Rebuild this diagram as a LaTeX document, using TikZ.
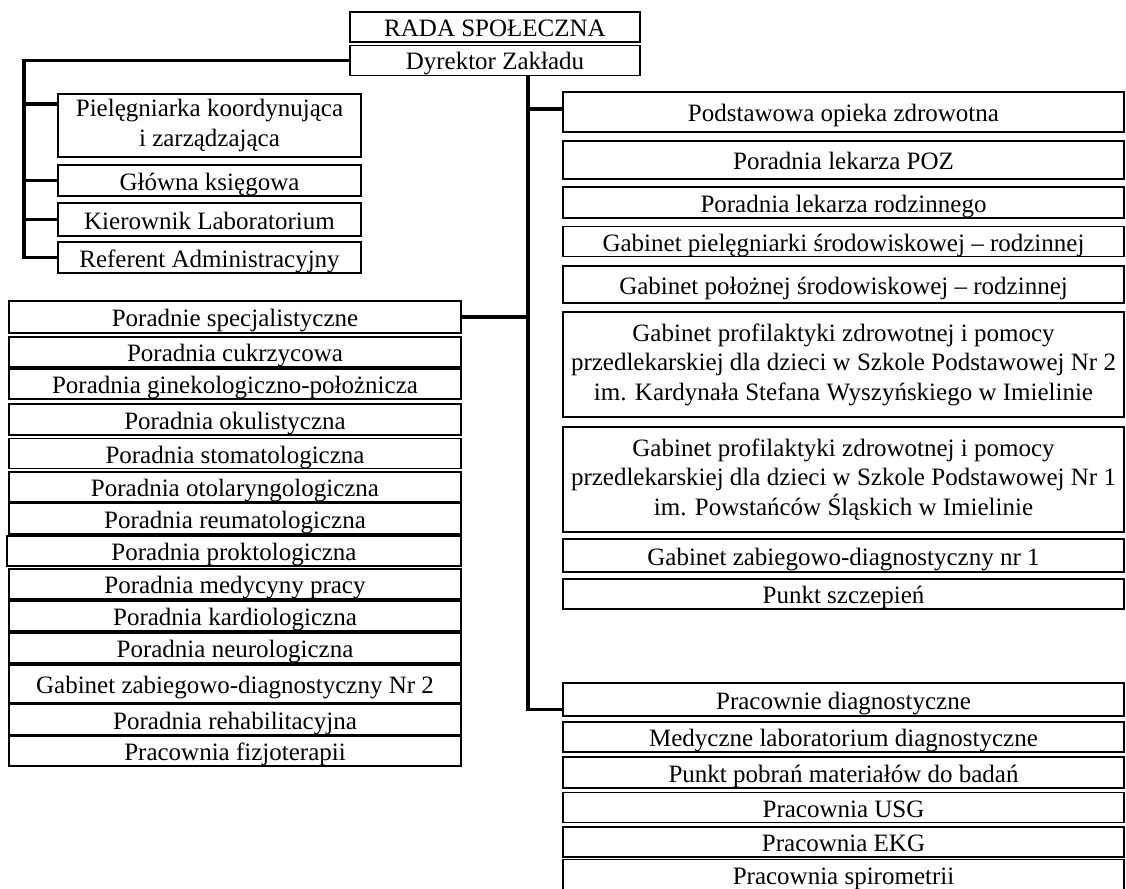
\documentclass[tikz,border=0pt]{standalone}
\usepackage{fontspec}
\setmainfont{Liberation Serif}
\newcommand\orgbox[6]{%
  \pgfmathsetmacro\obcx{(#2+#4)/2}\pgfmathsetmacro\obcy{(#3+#5)/2}%
  \pgfmathsetmacro\obw{#4-#2}\pgfmathsetmacro\obh{#5-#3}%
  \node[box, minimum width=\obw pt, minimum height=\obh pt] (#1) at (\obcx,\obcy) {#6};}
\newcommand\orgmbox[6]{%
  \pgfmathsetmacro\obcx{(#2+#4)/2}\pgfmathsetmacro\obcy{(#3+#5)/2}%
  \pgfmathsetmacro\obw{#4-#2}\pgfmathsetmacro\obh{#5-#3}%
  \node[mbox, minimum width=\obw pt, minimum height=\obh pt] (#1) at (\obcx,\obcy) {#6};}
\begin{document}
\begin{tikzpicture}[x=1pt,y=-1pt,
  box/.style={draw=black, line width=1.6pt, inner sep=0pt, fill=white,
    font=\fontsize{25}{30}\selectfont, text height=24.5pt, text depth=5.5pt},
  mbox/.style={draw=black, line width=1.6pt, inner sep=0pt, fill=white,
    font=\fontsize{25}{29.5}\selectfont, align=center},
  conn/.style={draw=black, line width=3.8pt}]
\useasboundingbox (0,0) rectangle (1126,888);
\fill[white] (0,0) rectangle (1126,888);
% top
\orgbox{rada}{350}{12}{640}{42}{RADA SPOŁECZNA}
\orgbox{dyr}{350}{47}{640}{74}{Dyrektor Zakładu}
% left top
\orgmbox{piel}{58}{94}{361}{157}{Pielęgniarka koordynująca\\i zarządzająca}
\orgbox{glow}{58}{165}{361}{196}{Główna księgowa}
\orgbox{kier}{58}{203}{361}{236}{Kierownik Laboratorium}
\orgbox{ref}{58}{242}{361}{273}{Referent Administracyjny}
% left column
\orgbox{spec}{9}{301}{461}{333}{Poradnie specjalistyczne}
\orgbox{cukr}{9}{337}{461}{367}{Poradnia cukrzycowa}
\orgbox{gin}{9}{369}{461}{399}{Poradnia ginekologiczno-położnicza}
\orgbox{oku}{9}{404}{461}{435}{Poradnia okulistyczna}
\orgbox{stom}{9}{439}{461}{468}{Poradnia stomatologiczna}
\orgbox{oto}{9}{472}{461}{502}{Poradnia otolaryngologiczna}
\orgbox{reum}{9}{503}{461}{534}{Poradnia reumatologiczna}
\orgbox{prok}{7}{536}{461}{566}{Poradnia proktologiczna}
\orgbox{med}{9}{569}{461}{599}{Poradnia medycyny pracy}
\orgbox{kard}{9}{601}{461}{631}{Poradnia kardiologiczna}
\orgbox{neur}{9}{633}{461}{663}{Poradnia neurologiczna}
\orgbox{gab2}{9}{665}{461}{703}{Gabinet zabiegowo-diagnostyczny Nr 2}
\orgbox{rehab}{9}{704}{461}{735}{Poradnia rehabilitacyjna}
\orgbox{fizjo}{9}{736}{461}{766}{Pracownia fizjoterapii}
% right column
\orgbox{pod}{563}{92}{1124}{132}{Podstawowa opieka zdrowotna}
\orgbox{poz}{563}{141}{1124}{179}{Poradnia lekarza POZ}
\orgbox{rodz}{563}{187}{1124}{218}{Poradnia lekarza rodzinnego}
\orgbox{pielsr}{563}{227}{1124}{256}{Gabinet pielęgniarki środowiskowej – rodzinnej}
\orgbox{poloz}{563}{266}{1124}{303}{Gabinet położnej środowiskowej – rodzinnej}
\orgmbox{prof2}{563}{312}{1124}{417}{Gabinet profilaktyki zdrowotnej i pomocy\\przedlekarskiej dla dzieci w Szkole Podstawowej Nr 2\\im. Kardynała Stefana Wyszyńskiego w Imielinie}
\orgmbox{prof1}{563}{427}{1124}{532}{Gabinet profilaktyki zdrowotnej i pomocy\\przedlekarskiej dla dzieci w Szkole Podstawowej Nr 1\\im. Powstańców Śląskich w Imielinie}
\orgbox{zab1}{563}{539}{1124}{572}{Gabinet zabiegowo-diagnostyczny nr 1}
\orgbox{szcz}{563}{579}{1124}{609}{Punkt szczepień}
\orgbox{prac}{563}{683}{1124}{716}{Pracownie diagnostyczne}
\orgbox{medlab}{563}{722}{1124}{752}{Medyczne laboratorium diagnostyczne}
\orgbox{pobr}{563}{757}{1124}{788}{Punkt pobrań materiałów do badań}
\orgbox{usg}{563}{793}{1124}{822}{Pracownia USG}
\orgbox{ekg}{563}{828}{1124}{856}{Pracownia EKG}
\orgbox{spir}{563}{862}{1124}{887}{Pracownia spirometrii}
% trunks
\coordinate (lt) at (24,0);
\coordinate (rt) at (528,0);
\draw[conn] (dyr.west) -| (ref.west -| lt) -- (ref.west);
\draw[conn] ([yshift=-11pt]piel.north west) -- ([yshift=-11pt]piel.north west -| lt);
\draw[conn] (glow.west) -- (glow.west -| lt);
\draw[conn] (kier.west) -- (kier.west -| lt);
\draw[conn] (dyr.south -| rt) -- ([yshift=-10pt]prac.west -| rt) -- ([yshift=-10pt]prac.west);
\draw[conn] ([yshift=3pt]pod.west) -- ([yshift=3pt]pod.west -| rt);
\draw[conn] (spec.east) -- (spec.east -| rt);
\end{tikzpicture}
\end{document}
